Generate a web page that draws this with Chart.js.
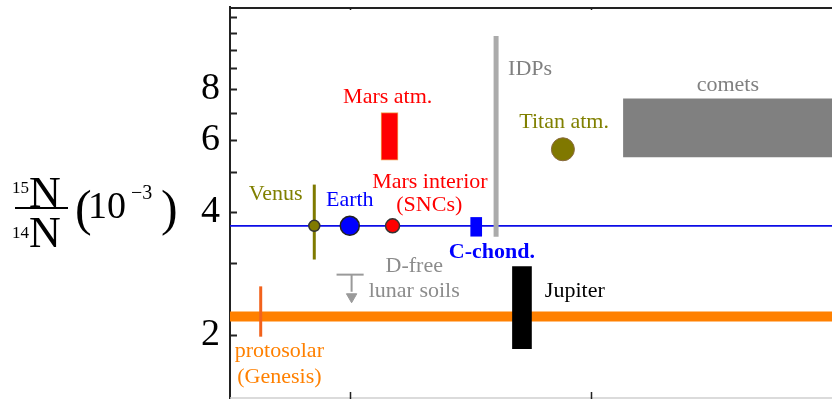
<!DOCTYPE html>
<html>
<head>
<meta charset="utf-8">
<script src="https://cdn.jsdelivr.net/npm/chart.js@4/dist/chart.umd.min.js"></script>
<style>
  html, body { margin: 0; padding: 0; background: #ffffff; }
  #wrap { width: 832px; height: 399px; position: relative; }
</style>
</head>
<body>
<div id="wrap"><canvas id="c"></canvas></div>
<script>
// 15N/14N ratios, in units of 1e-3
const yTickValues = [2, 3, 4, 5, 6, 7, 8, 9, 10, 11, 12];
const yTickLabels = [2, 4, 6, 8];
const xTickValues = [2, 6];

const earthRatio = 3.70;          // terrestrial atmosphere reference
const protosolarRatio = 2.22;     // solar wind (Genesis)
const protosolarRange = [1.98, 2.63];
const venusRange = [3.06, 4.67];
const idpRange = [3.48, 10.8];
const marsAtmRange = [5.36, 7.01];
const chondriteRange = [3.49, 3.88];
const jupiterRange = [1.85, 2.94];
const cometRange = [5.45, 7.59];
const titanRatio = 5.70;
const lunarLimit = [2.81, 2.55];  // upper limit: bar, arrow shaft end
const lunarArrowTip = 2.48;

// horizontal placement of each object (ordering axis, no physical meaning)
const bodyNames = ['protosolar', 'venus', 'earth', 'marsInterior', 'marsAtm', 'chondrites', 'idps', 'jupiter', 'titan', 'lunar'];
const bodyX = [0.51, 1.40, 1.99, 2.70, 2.65, 4.09, 4.42, 4.85, 5.53, 2.02];
const cometSpan = [6.53, 10];
const lunarSpan = [1.77, 2.22];
const fullSpan = [0, 10];

const X = Object.fromEntries(bodyNames.map((n, i) => [n, bodyX[i]]));

const serif = '"Liberation Serif", "Times New Roman", serif';

const labels = [
  { text: 'Mars atm.',     x: 2.62, y: 7.39,  color: '#ff0000', align: 'center' },
  { text: 'Venus',         x: 0.76, y: 4.29,  color: '#808000', align: 'center' },
  { text: 'Earth',         x: 1.99, y: 4.13,  color: '#0000ff', align: 'center' },
  { text: 'Mars interior', x: 3.32, y: 4.59,  color: '#ff0000', align: 'center' },
  { text: '(SNCs)',        x: 3.31, y: 4.03,  color: '#ff0000', align: 'center' },
  { text: 'C-chond.',      x: 4.35, y: 3.09,  color: '#0000ff', align: 'center', bold: true },
  { text: 'D-free',        x: 3.06, y: 2.855, color: '#8c8c8c', align: 'center' },
  { text: 'lunar soils',   x: 3.06, y: 2.48,  color: '#8c8c8c', align: 'center' },
  { text: 'IDPs',          x: 4.62, y: 8.68,  color: '#808080', align: 'left' },
  { text: 'comets',        x: 8.27, y: 7.93,  color: '#808080', align: 'center' },
  { text: 'Titan atm.',    x: 5.55, y: 6.41,  color: '#808000', align: 'center' },
  { text: 'Jupiter',       x: 5.23, y: 2.47,  color: '#000000', align: 'left' },
  { text: 'protosolar',    x: 0.82, y: 1.768, color: '#ff8000', align: 'center' },
  { text: '(Genesis)',     x: 0.82, y: 1.524, color: '#ff8000', align: 'center' }
];

function segment(x0, y0, x1, y1, color, width) {
  return {
    type: 'line',
    data: [{ x: x0, y: y0 }, { x: x1, y: y1 }],
    borderColor: color,
    borderWidth: width,
    borderCapStyle: 'butt',
    pointRadius: 0,
    fill: false
  };
}

function floatingBar(x, range, color, width, edge) {
  return {
    type: 'bar',
    data: [{ x: x, y: range }],
    backgroundColor: color,
    borderColor: edge || color,
    borderWidth: edge ? 1 : 0,
    borderSkipped: false,
    grouped: false,
    barPercentage: 1,
    categoryPercentage: 1,
    barThickness: width,
    maxBarThickness: width
  };
}

function marker(x, y, fill, edge, radius, edgeWidth, style, rotation) {
  return {
    type: 'scatter',
    data: [{ x: x, y: y }],
    pointStyle: style || 'circle',
    rotation: rotation || 0,
    pointRadius: radius,
    pointBackgroundColor: fill,
    pointBorderColor: edge,
    pointBorderWidth: edgeWidth,
    showLine: false
  };
}

// listed bottom-most first
const datasets = [
  Object.assign(segment(cometSpan[0], cometRange[1], cometSpan[1], cometRange[1], 'rgba(0,0,0,0)', 0),
    { fill: { value: cometRange[0] }, backgroundColor: '#808080' }),
  segment(fullSpan[0], protosolarRatio, fullSpan[1], protosolarRatio, '#ff8000', 10),
  segment(fullSpan[0], earthRatio, fullSpan[1], earthRatio, '#0c0ce6', 1.8),
  segment(X.idps, idpRange[0], X.idps, idpRange[1], '#ababab', 5),
  segment(X.venus, venusRange[0], X.venus, venusRange[1], '#7f7a00', 3),
  segment(X.protosolar, protosolarRange[0], X.protosolar, protosolarRange[1], '#f2621c', 3),
  floatingBar(X.marsAtm, marsAtmRange, '#ff0000', 17, '#f0a050'),
  floatingBar(X.chondrites, chondriteRange, '#0000ff', 11),
  floatingBar(X.jupiter, jupiterRange, '#000000', 19),
  segment(lunarSpan[0], lunarLimit[0], lunarSpan[1], lunarLimit[0], '#9a9a9a', 2),
  segment(X.lunar, lunarLimit[0], X.lunar, lunarLimit[1], '#9a9a9a', 2),
  marker(X.lunar, lunarArrowTip, '#9a9a9a', '#9a9a9a', 6, 1, 'triangle', 180),
  marker(X.venus, earthRatio, '#807a00', '#333333', 5.5, 1.5),
  marker(X.earth, earthRatio, '#0000ff', '#222222', 9.5, 1.5),
  marker(X.marsInterior, earthRatio, '#ff0000', '#333333', 7, 1.5),
  marker(X.titan, titanRatio, '#807800', '#8a6a40', 11.5, 1)
];
datasets.forEach((d, i) => { d.order = datasets.length - i; });

// frame, inward tick marks and the axis title
const framePlugin = {
  id: 'frame',
  afterDraw(chart) {
    const { ctx, chartArea: a, scales: { x, y } } = chart;
    ctx.save();
    ctx.strokeStyle = '#222222';
    ctx.lineWidth = 2;
    ctx.beginPath();
    ctx.moveTo(a.left - 1, a.top + 1);
    ctx.lineTo(a.right, a.top + 1);
    ctx.stroke();
    ctx.strokeStyle = '#cfcfcf';
    ctx.lineWidth = 1.5;
    ctx.beginPath();
    ctx.moveTo(a.left, a.bottom - 1);
    ctx.lineTo(a.right, a.bottom - 1);
    ctx.stroke();
    // left axis ticks
    ctx.strokeStyle = '#222222';
    ctx.lineWidth = 2;
    y.ticks.forEach(t => {
      const py = Math.round(y.getPixelForValue(t.value)) + 0.5;
      ctx.beginPath();
      ctx.moveTo(a.left, py);
      ctx.lineTo(a.left + 7, py);
      ctx.stroke();
    });
    // bottom and top ticks
    ctx.lineWidth = 1.5;
    xTickValues.forEach(v => {
      const px = Math.round(x.getPixelForValue(v)) + 0.5;
      ctx.beginPath();
      ctx.moveTo(px, a.bottom);
      ctx.lineTo(px, a.bottom - 7);
      ctx.moveTo(px, a.top);
      ctx.lineTo(px, a.top + 3);
      ctx.stroke();
    });
    // axis title: 15N/14N (10^-3)
    ctx.fillStyle = '#000000';
    ctx.textBaseline = 'alphabetic';
    ctx.textAlign = 'left';
    ctx.font = '44px ' + serif;
    ctx.fillText('N', 29, 207);
    ctx.fillText('N', 29, 247);
    ctx.font = '17px ' + serif;
    ctx.fillText('15', 12, 193);
    ctx.fillText('14', 12, 238);
    ctx.fillRect(15, 207, 53, 2);
    ctx.font = '50px ' + serif;
    ctx.fillText('(', 75, 225);
    ctx.fillText(')', 161, 225);
    ctx.font = '38px ' + serif;
    ctx.fillText('10', 88, 218);
    ctx.font = '20px ' + serif;
    ctx.fillText('\u22123', 131, 199);
    ctx.restore();
  }
};

const labelPlugin = {
  id: 'bodyLabels',
  afterDatasetsDraw(chart) {
    const { ctx, scales: { x, y } } = chart;
    ctx.save();
    ctx.textBaseline = 'alphabetic';
    labels.forEach(l => {
      ctx.font = (l.bold ? 'bold ' : '') + '22px ' + serif;
      ctx.fillStyle = l.color;
      ctx.textAlign = l.align;
      ctx.fillText(l.text, x.getPixelForValue(l.x), y.getPixelForValue(l.y));
    });
    ctx.restore();
  }
};

function draw() {
  new Chart(document.getElementById('c'), {
    data: { datasets: datasets },
    options: {
      responsive: true,
      maintainAspectRatio: false,
      animation: false,
      events: [],
      layout: { autoPadding: false, padding: { top: 7, right: 0, bottom: 0, left: 0 } },
      plugins: { legend: { display: false }, tooltip: { enabled: false } },
      scales: {
        x: {
          type: 'linear',
          display: false,
          offset: false,
          min: 0,
          max: 10
        },
        y: {
          type: 'logarithmic',
          position: 'left',
          min: 1.393,
          max: 12.72,
          afterFit(scale) {
            scale.width = 230;
            scale.paddingTop = 0;
            scale.paddingBottom = 0;
          },
          afterBuildTicks(scale) { scale.ticks = yTickValues.map(v => ({ value: v })); },
          grid: { display: true, drawOnChartArea: false, drawTicks: false, color: 'rgba(0,0,0,0)' },
          border: { display: true, color: '#222222', width: 2 },
          ticks: {
            padding: 10,
            autoSkip: false,
            color: '#000000',
            font: { family: serif, size: 38 },
            callback: v => (yTickLabels.includes(v) ? String(v) : '')
          }
        }
      }
    },
    plugins: [framePlugin, labelPlugin]
  });
}

if (document.fonts && document.fonts.load) {
  Promise.all([
    document.fonts.load('22px "Liberation Serif"'),
    document.fonts.load('bold 22px "Liberation Serif"')
  ]).then(draw, draw);
} else {
  draw();
}
</script>
</body>
</html>
